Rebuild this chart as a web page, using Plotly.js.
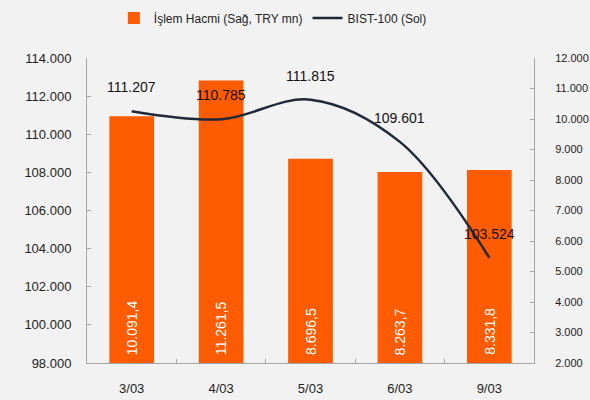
<!DOCTYPE html>
<html>
<head>
<meta charset="utf-8">
<script src="https://cdn.plot.ly/plotly-3.0.1.min.js"></script>
<style>html,body{margin:0;padding:0;background:#f2f2f2;}#chart{width:590px;height:400px;}</style>
</head>
<body>
<div id="chart"></div>
<script>
const categories = ['3/03', '4/03', '5/03', '6/03', '9/03'];
const volume = [10091.4, 11261.5, 8696.5, 8263.7, 8331.8];
const bist100 = [111207, 110785, 111815, 109601, 103524];
const volumeName = 'İşlem Hacmi (Sağ, TRY mn)';
const bistName = 'BIST-100 (Sol)';
const leftRange = [98000, 114000];
const rightRange = [2000, 12000];

function trNum(v, dec) {
  const parts = v.toFixed(dec).split('.');
  const intPart = parts[0].replace(/\B(?=(\d{3})+(?!\d))/g, '.');
  return parts.length > 1 ? intPart + ',' + parts[1] : intPart;
}

const FONT = 'Liberation Sans, Arial, sans-serif';

// bars on primary y (drawn first, underneath); line on y2 overlay (drawn on top)
const barTrace = {
  type: 'bar', name: volumeName, x: categories, y: volume, yaxis: 'y',
  marker: {color: '#FF5B00'}, width: 0.5, textposition: 'none', hoverinfo: 'skip'
};
const lineTrace = {
  type: 'scatter', mode: 'lines', name: bistName, x: categories, y: bist100, yaxis: 'y2',
  line: {color: '#1f2937', width: 2.5, shape: 'spline', smoothing: 1}
};

const lineLabels = categories.map((c, i) => ({
  x: c, y: bist100[i], xref: 'x', yref: 'y2', text: trNum(bist100[i], 0),
  showarrow: false, yshift: 24, font: {size: 14, color: '#111', family: FONT}
}));
const barLabels = categories.map((c, i) => ({
  x: c, y: rightRange[0], xref: 'x', yref: 'y', text: trNum(volume[i], 1),
  showarrow: false, textangle: -90, yanchor: 'bottom', yshift: 6,
  font: {size: 14, color: '#ffffff', family: FONT}
}));

const layout = {
  width: 590, height: 400,
  paper_bgcolor: '#f2f2f2', plot_bgcolor: '#f2f2f2',
  margin: {l: 87, r: 56, t: 58, b: 37, autoexpand: false},
  separators: ',.',
  font: {family: FONT, size: 13, color: '#222'},
  showlegend: true,
  legend: {orientation: 'h', x: 0.06, xanchor: 'left', y: 1.131, yanchor: 'middle',
           font: {size: 12, family: FONT}, bgcolor: 'rgba(0,0,0,0)', traceorder: 'normal'},
  xaxis: {type: 'category', showline: true, linecolor: '#a6a6a6', linewidth: 1,
          ticks: 'inside', tickson: 'boundaries', ticklen: 4, tickcolor: '#a6a6a6',
          showgrid: false, zeroline: false, ticklabelstandoff: 13},
  yaxis: {range: rightRange, dtick: 1000, tickformat: ',d', side: 'right',
          tickfont: {size: 11, family: FONT},
          showline: true, linecolor: '#a6a6a6', ticks: 'inside', ticklen: 4, tickcolor: '#a6a6a6',
          showgrid: false, zeroline: false, ticklabelstandoff: 18},
  yaxis2: {range: leftRange, dtick: 2000, tickformat: ',d', overlaying: 'y', side: 'left',
           showline: true, linecolor: '#a6a6a6', ticks: 'inside', ticklen: 4, tickcolor: '#a6a6a6',
           showgrid: false, zeroline: false, ticklabelstandoff: 12},
  annotations: barLabels.concat(lineLabels)
};

Plotly.newPlot('chart', [barTrace, lineTrace], layout, {displayModeBar: false, staticPlot: true});
</script>
</body>
</html>
